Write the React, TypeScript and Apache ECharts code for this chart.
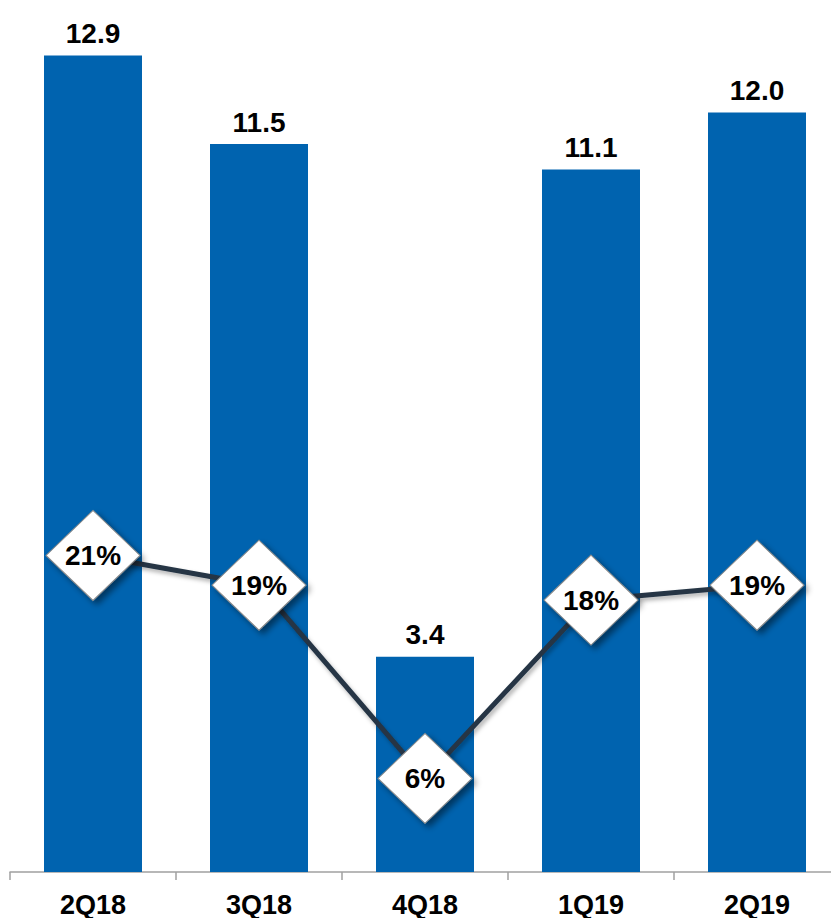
import React, { useEffect, useRef } from "react";
import * as echarts from "echarts";

const categories = ["2Q18", "3Q18", "4Q18", "1Q19", "2Q19"];
const barValues = [12.9, 11.5, 3.4, 11.1, 12.0];
const pctValues = [21, 19, 6, 18, 19];

export default function App() {
  const ref = useRef<HTMLDivElement>(null);
  useEffect(() => {
    if (!ref.current) return;
    const chart = echarts.init(ref.current, null, { renderer: "svg" });
    const font = "'Liberation Sans', Arial, sans-serif";
    chart.setOption({
      animation: false,
      backgroundColor: "#ffffff",
      grid: { left: 10, top: 17.5, width: 830, height: 854.5 },
      xAxis: {
        type: "category",
        data: categories,
        axisLine: { show: true, lineStyle: { color: "#a0a0a0", width: 1.5 } },
        axisTick: { show: true, length: 8, lineStyle: { color: "#a0a0a0", width: 1.5 } },
        axisLabel: {
          color: "#000",
          fontSize: 27,
          fontWeight: "bold",
          fontFamily: font,
          margin: 19,
        },
      },
      yAxis: [
        { type: "value", min: 0, max: 13.5, show: false, splitLine: { show: false } },
        { type: "value", min: -0.3, max: 57.2, show: false, splitLine: { show: false } },
      ],
      series: [
        {
          type: "bar",
          data: barValues,
          barWidth: 98,
          itemStyle: { color: "#0063AF" },
          label: {
            show: true,
            position: "top",
            distance: 8,
            color: "#000",
            fontSize: 28,
            fontWeight: "bold",
            fontFamily: font,
            formatter: (p: any) => p.value.toFixed(1),
          },
          z: 1,
        },
        {
          type: "line",
          yAxisIndex: 1,
          data: pctValues,
          symbol: "diamond",
          symbolSize: [94, 90],
          lineStyle: {
            color: "#253545",
            width: 5,
            shadowColor: "rgba(0,0,0,0.3)",
            shadowBlur: 4,
            shadowOffsetX: 2,
            shadowOffsetY: 3,
          },
          itemStyle: {
            color: "#ffffff",
            borderColor: "#8a8a8a",
            borderWidth: 1,
            shadowColor: "rgba(0,0,0,0.45)",
            shadowBlur: 6,
            shadowOffsetX: 4,
            shadowOffsetY: 4,
          },
          label: {
            show: true,
            position: "inside",
            color: "#000",
            fontSize: 28,
            fontWeight: "bold",
            fontFamily: font,
            formatter: (p: any) => p.value + "%",
          },
          z: 3,
        },
      ],
    });
    return () => chart.dispose();
  }, []);
  return (
    <div
      style={{
        position: "fixed",
        left: 0,
        top: 0,
        width: 831,
        height: 918,
        overflow: "hidden",
      }}
    >
      <div ref={ref} style={{ width: 845, height: 918 }} />
    </div>
  );
}
